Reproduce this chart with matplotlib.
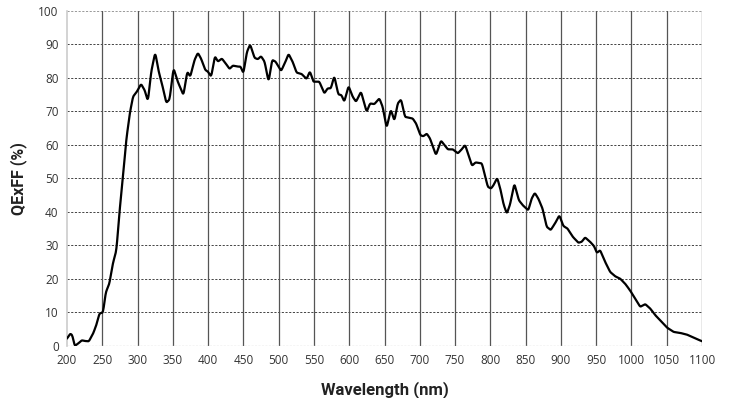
import matplotlib.pyplot as plt
import numpy as np

# wavelength (nm) and QExFF (%)
wavelength = [200, 204.7, 207.5, 211, 215.6, 221, 225, 231, 237, 241.5, 246, 251, 255, 260, 265,
              270, 274.6, 279, 284, 289, 293.5, 299, 305, 310, 314.7, 319.4, 325, 330, 335,
              340.7, 345.4, 351, 357, 365, 370.5, 374.7, 380.8, 385.5, 390, 395.9, 399.7, 404.4,
              409.6, 413.9, 419.5, 424.7, 430.4, 435, 442, 446, 450, 455, 459.6, 465.8, 470.5,
              475, 480, 485.7, 490.8, 495.5, 503.5, 509.7, 514, 519.7, 525.4, 532.5, 539.6,
              544.3, 549, 557.6, 564.7, 569.4, 574, 578.8, 584.5, 589, 593, 599, 604.9, 609.6,
              616.7, 624.7, 629.5, 635.6, 642.7, 647.4, 653, 659, 664, 668.7, 673.5, 679, 690,
              694.8, 700.9, 705, 709.9, 714.6, 718.4, 723, 730, 735, 739.7, 746.8, 753.9, 758.6,
              764.3, 769, 774, 779, 788, 791.7, 796.4, 801, 804.5, 809.7, 814.4, 818.7, 823.4,
              828, 834, 840.4, 846, 853.8, 858.5, 863, 868, 874, 879.8, 885.5, 891.7, 897.8,
              903.5, 909.2, 916.8, 924.8, 929.5, 934.3, 941.4, 947, 950.9, 955.6, 962.7, 969.8,
              976.9, 984, 991, 998, 1005.3, 1012.4, 1019.5, 1026.5, 1033.7, 1040.8, 1050.3,
              1059.7, 1069, 1078.6, 1088, 1100]
qexff = [2.2, 3.7, 3.2, 0.0, 0.7, 1.7, 1.5, 1.4, 3.7, 6.2, 9.7, 10.0, 16.0, 18.6, 24.6,
         28.6, 40.5, 49.5, 61.5, 69.4, 74.4, 75.9, 78.2, 76.4, 73.1, 81.9, 87.6, 81.9, 77.9,
         72.6, 73.6, 82.9, 78.9, 74.9, 81.9, 80.4, 85.4, 87.5, 85.8, 82.4, 81.9, 80.4,
         86.5, 84.9, 85.8, 84.4, 82.7, 83.7, 83.4, 83.4, 81.4, 87.8, 90.0, 86.0, 85.6,
         86.5, 84.9, 78.9, 85.4, 84.9, 82.1, 84.9, 87.2, 84.9, 81.6, 81.2, 79.7,
         82.0, 78.9, 78.9, 75.4, 76.9, 76.9, 80.6, 75.1, 74.9, 72.9, 77.6, 74.4, 72.9,
         75.9, 69.9, 72.4, 72.2, 73.9, 71.4, 65.1, 70.6, 67.2, 72.4, 73.6, 68.4, 67.9,
         66.4, 62.9, 62.6, 63.4, 61.9, 59.5, 57.0, 61.3, 60.0, 58.7, 58.7, 57.5, 58.5,
         60.0, 57.0, 53.8, 54.8, 54.5, 51.5, 47.5, 47.0, 48.0, 50.2, 46.7, 42.3, 39.5,
         42.3, 48.5, 43.5, 42.0, 40.5, 44.0, 45.7, 44.0, 41.0, 35.6, 34.6, 36.6, 39.0,
         35.8, 35.1, 32.6, 30.8, 31.1, 32.4, 31.1, 29.8, 27.8, 28.6, 25.1, 22.1,
         20.8, 20.1, 18.6, 16.6, 14.1, 11.7, 12.5, 11.2, 9.2, 7.7, 5.5,
         4.2, 3.9, 3.4, 2.5, 1.4]

x_ticks = list(range(200, 1101, 50))
y_ticks = list(range(0, 101, 10))

fig = plt.figure(figsize=(7.29, 3.98), dpi=100)
ax = fig.add_axes([0.0919, 0.1307, 0.8711, 0.8417])

# light smoothing of the traced points
xs = np.linspace(200, 1100, 1800)
ys = np.interp(xs, wavelength, qexff)
k = np.ones(5) / 5
ys = np.convolve(np.pad(ys, 2, mode='edge'), k, mode='valid')
ax.plot(xs, ys, color='black', lw=1.6, zorder=3)

ax.set_xlim(200, 1100)
ax.set_ylim(0, 100)
ax.set_xticks(x_ticks)
ax.set_yticks(y_ticks)

for v in y_ticks[1:-1]:
    ax.axhline(v, color='#444444', lw=0.7, ls=(0, (2.2, 1.6)), zorder=1)
ax.axhline(100, color='#999999', lw=0.7, ls=(0, (2.2, 1.6)), zorder=1)
for v in x_ticks[1:]:
    ax.axvline(v, color='#555555', lw=0.9, zorder=1)

for s in ['top', 'right', 'bottom']:
    ax.spines[s].set_visible(False)
ax.spines['left'].set_color('#cccccc')
ax.spines['left'].set_linewidth(1.2)
ax.axhline(0, color='#cccccc', lw=1.0, ls=(0, (1.5, 1)), zorder=1)

ax.tick_params(length=0, labelsize=8.5, colors='#333333', pad=6)
for lab in ax.get_xticklabels() + ax.get_yticklabels():
    lab.set_family('Open Sans')

ax.set_xlabel('Wavelength (nm)', fontsize=12, fontweight='bold', family='Roboto',
              color='#222222', labelpad=10)
ax.set_ylabel('QExFF (%)', fontsize=11.5, fontweight='bold', family='Roboto',
              color='#222222', labelpad=8)

fig.savefig('out.png', dpi=100)
